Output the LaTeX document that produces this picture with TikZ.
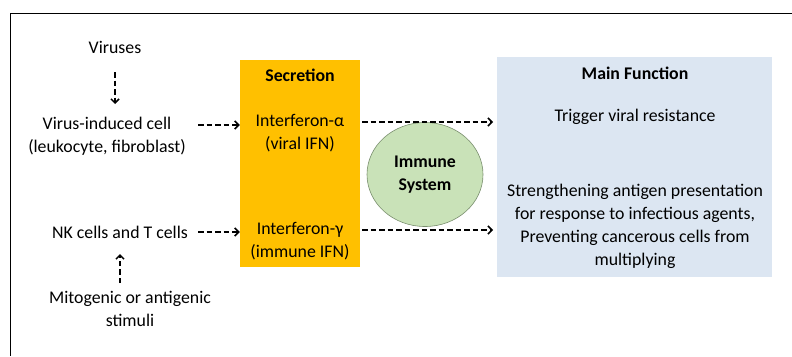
\documentclass[tikz,border=0pt]{standalone}
\usepackage{fontspec}
\setmainfont{Carlito}
\usetikzlibrary{arrows.meta,shapes.geometric}
\definecolor{secorange}{HTML}{FFC000}
\definecolor{funcblue}{HTML}{DCE6F2}
\definecolor{immgreen}{HTML}{C9E2B8}
\definecolor{immborder}{HTML}{7A8F6E}
\tikzset{
  txt/.style={font=\fontsize{17.8}{23}\selectfont, align=center, inner sep=0pt},
  hdr/.style={txt, font=\fontsize{17.8}{23}\selectfont\bfseries},
  arr/.style={dashed, dash pattern=on 5.5pt off 3pt, line width=1.5pt, -{Straight Barb[length=4pt,width=8pt,line width=1.5pt]}},
}
\begin{document}
\begin{tikzpicture}[x=1pt,y=-1pt]
\useasboundingbox (0,0) rectangle (792,356);
% frame
\draw[line width=1.3pt] (792,13.5) -- (10.5,13.5) -- (10.5,356);
% boxes
\node[fill=secorange, minimum width=120pt, minimum height=207pt, inner sep=0pt] (secbox) at (300,163.5) {};
\node[fill=funcblue, minimum width=275pt, minimum height=220pt, inner sep=0pt] (funcbox) at (634.5,167) {};
\node[ellipse, fill=immgreen, draw=immborder, line width=0.6pt, minimum width=116pt, minimum height=104pt, inner sep=0pt] (imm) at (425,174.5) {};
\node[hdr] (immtxt) at (425,174.5) {Immune\\System};
% texts
\node[txt] (viruses) at (115,47) {Viruses};
\node[txt] (vcell) at (107,136.5) {Virus-induced cell\\(leukocyte, fibroblast)};
\node[txt] (nk) at (120,232) {NK cells and T cells};
\node[txt] (mito) at (130,309) {Mitogenic or antigenic\\stimuli};
\node[hdr] (sechdr) at (300,75) {Secretion};
\node[txt] (alpha) at (300,133.5) {Interferon-α\\(viral IFN)};
\node[txt] (gamma) at (300,241.5) {Interferon-γ\\(immune IFN)};
\node[hdr] (funchdr) at (635,73) {Main Function};
\node[txt] (trig) at (635,117) {Trigger viral resistance};
\node[txt] (streng) at (635,226.5) {Strengthening antigen presentation\\for response to infectious agents,\\Preventing cancerous cells from\\multiplying};
% arrows
\coordinate (vtop) at (115,72);
\coordinate (vbot) at (115,104);
\draw[arr] (vtop) -- (vbot);
\coordinate (mbot) at (120,283);
\coordinate (mtop) at (120,254);
\draw[arr] (mbot) -- (mtop);
\draw[arr] (198,125) -- (secbox.west |- 0,125);
\draw[arr] (198,232) -- (secbox.west |- 0,232);
\draw[arr] (secbox.east |- 0,122) ++(2,0) -- (493,122);
\draw[arr] (secbox.east |- 0,230) ++(2,0) -- (493,230);
\end{tikzpicture}
\end{document}
